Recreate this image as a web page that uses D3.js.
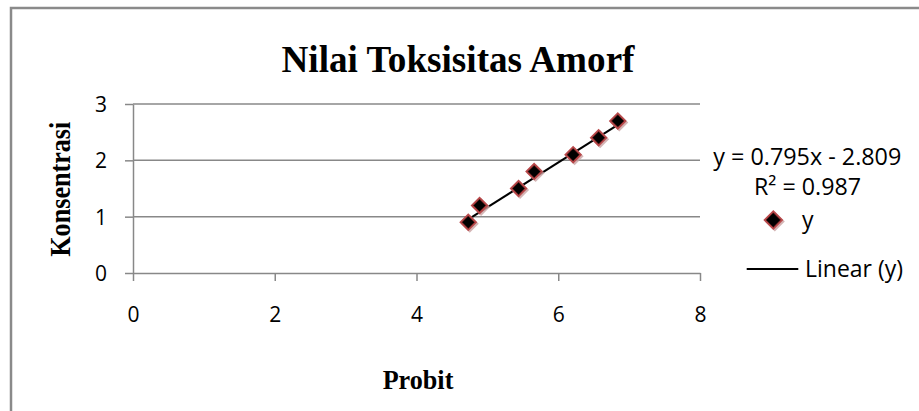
<!DOCTYPE html>
<html>
<head>
<meta charset="utf-8">
<script src="https://cdn.jsdelivr.net/npm/d3@7"></script>
<style>
html,body{margin:0;padding:0;background:#fff;}
svg{display:block;}
</style>
</head>
<body>
<svg id="chart" width="919" height="411"></svg>
<script>
// ---- data ----
const probit = [4.73, 4.89, 5.44, 5.66, 6.21, 6.57, 6.84];
const konsentrasi = [0.9, 1.2, 1.5, 1.8, 2.1, 2.4, 2.7];
const xTicks = [0, 2, 4, 6, 8];
const yTicks = [0, 1, 2, 3];
const slope = 0.795, intercept = -2.809;
const titleText = "Nilai Toksisitas Amorf";
const xTitle = "Probit";
const yTitle = "Konsentrasi";
const eqText = "y = 0.795x - 2.809";
const r2Text = "R² = 0.987";
const seriesName = "y";
const trendName = "Linear (y)";

const svg = d3.select("#chart");
const grid = "#888888";
const tickFont = "'Open Sans', sans-serif";
const serif = "'Liberation Serif', 'Times New Roman', serif";

// outer border
svg.append("path")
  .attr("d", "M11,411 L11,8 L919,8")
  .attr("fill", "none").attr("stroke", "#8a8a8a").attr("stroke-width", 2.5);

const x = d3.scaleLinear().domain([0, 8]).range([133, 700]);
const y = d3.scaleLinear().domain([0, 3]).range([273, 104]);

// gridlines
svg.append("g").selectAll("line").data(yTicks.filter(d => d > 0)).join("line")
  .attr("x1", x(0)).attr("x2", x(8))
  .attr("y1", d => y(d)).attr("y2", d => y(d))
  .attr("stroke", grid).attr("stroke-width", 1.5);

// y axis
const yAxis = svg.append("g").attr("transform", `translate(${x(0)},0)`)
  .call(d3.axisLeft(y).tickValues(yTicks).tickFormat(d3.format("d")).tickSize(8).tickPadding(18).tickSizeOuter(0));
// x axis
const xAxis = svg.append("g").attr("transform", `translate(0,${y(0)})`)
  .call(d3.axisBottom(x).tickValues(xTicks).tickFormat(d3.format("d")).tickSize(8).tickPadding(26).tickSizeOuter(0));

[yAxis, xAxis].forEach(g => {
  g.select(".domain").attr("stroke", grid).attr("stroke-width", 1.5);
  g.selectAll(".tick line").attr("stroke", grid).attr("stroke-width", 1.5);
  g.selectAll(".tick text").attr("font-family", tickFont).attr("font-size", 21).attr("fill", "#000");
});
yAxis.selectAll(".tick text").attr("dy", "0.36em");
xAxis.selectAll(".tick text").attr("dy", "0.71em");

// trendline
const xr = d3.extent(probit);
svg.append("line")
  .attr("x1", x(xr[0])).attr("y1", y(slope * xr[0] + intercept))
  .attr("x2", x(xr[1])).attr("y2", y(slope * xr[1] + intercept))
  .attr("stroke", "#000").attr("stroke-width", 2);

// markers
function diamond(g, cx, cy, r) {
  g.append("path")
    .attr("d", `M${cx+1.5},${cy-r+1.5} L${cx+r+1.5},${cy+1.5} L${cx+1.5},${cy+r+1.5} L${cx-r+1.5},${cy+1.5} Z`)
    .attr("fill", "#c9a3a2").attr("opacity", 0.8);
  g.append("path")
    .attr("d", `M${cx},${cy-r} L${cx+r},${cy} L${cx},${cy+r} L${cx-r},${cy} Z`)
    .attr("fill", "#b8484a");
  const r2 = r - 2.8;
  g.append("path")
    .attr("d", `M${cx},${cy-r2} L${cx+r2},${cy} L${cx},${cy+r2} L${cx-r2},${cy} Z`)
    .attr("fill", "#000").attr("stroke", "#5a1a18").attr("stroke-width", 0.6);
}
const mk = svg.append("g");
probit.forEach((p, i) => diamond(mk, x(p), y(konsentrasi[i]), 9));

// title
svg.append("text").attr("x", 458).attr("y", 71.7).attr("text-anchor", "middle")
  .attr("font-family", serif).attr("font-weight", "bold").attr("font-size", 37)
  .attr("textLength", 353).attr("lengthAdjust", "spacingAndGlyphs")
  .text(titleText);

// axis titles
svg.append("text").attr("x", 418).attr("y", 389.3).attr("text-anchor", "middle")
  .attr("font-family", serif).attr("font-weight", "bold").attr("font-size", 27)
  .attr("textLength", 70.7).attr("lengthAdjust", "spacingAndGlyphs")
  .text(xTitle);
svg.append("text").attr("transform", "translate(70,189.2) rotate(-90)").attr("text-anchor", "middle")
  .attr("font-family", serif).attr("font-weight", "bold").attr("font-size", 29)
  .attr("textLength", 135).attr("lengthAdjust", "spacingAndGlyphs")
  .text(yTitle);

// equation + R²
svg.append("text").attr("x", 713.3).attr("y", 165)
  .attr("font-family", tickFont).attr("font-size", 23)
  .attr("textLength", 188).attr("lengthAdjust", "spacingAndGlyphs").text(eqText);
svg.append("text").attr("x", 754).attr("y", 195)
  .attr("font-family", tickFont).attr("font-size", 23)
  .attr("textLength", 107).attr("lengthAdjust", "spacingAndGlyphs").text(r2Text);

// legend
const lg = svg.append("g");
diamond(lg, 773.3, 220, 10);
lg.append("text").attr("x", 802).attr("y", 228)
  .attr("font-family", tickFont).attr("font-size", 23).text(seriesName);
lg.append("line").attr("x1", 746.7).attr("x2", 798.3).attr("y1", 269).attr("y2", 269)
  .attr("stroke", "#000").attr("stroke-width", 2);
lg.append("text").attr("x", 805).attr("y", 276.7)
  .attr("font-family", tickFont).attr("font-size", 23)
  .attr("textLength", 98).attr("lengthAdjust", "spacingAndGlyphs").text(trendName);
</script>
</body>
</html>
